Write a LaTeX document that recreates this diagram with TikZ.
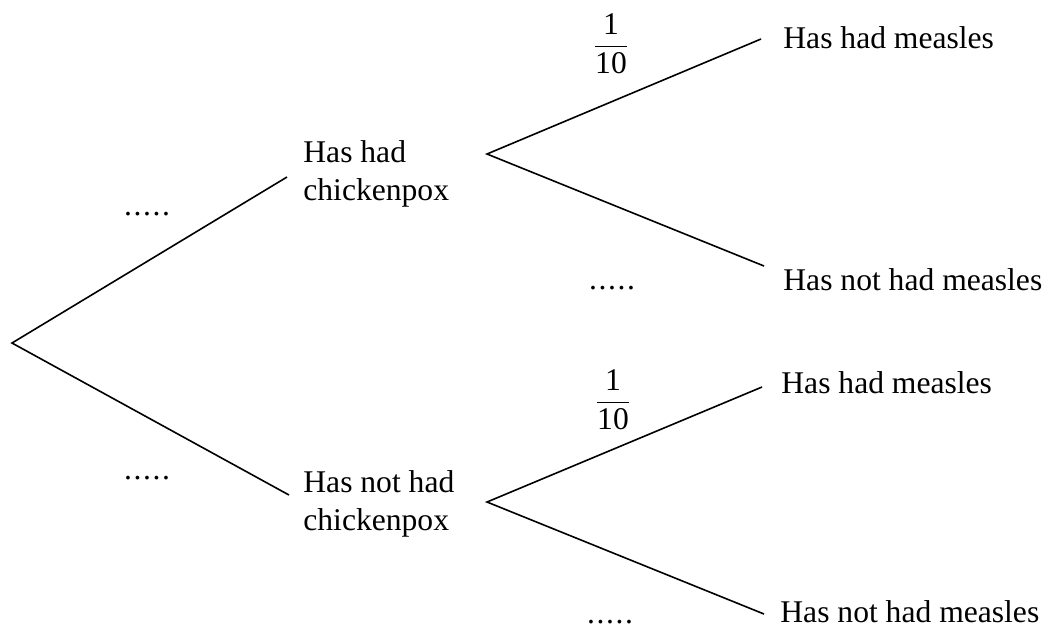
\documentclass[tikz,border=0pt]{standalone}
\usepackage{fontspec}
\setmainfont{Liberation Serif}
\newcommand{\blankdots}{.\kern0.8pt.\kern0.8pt.\kern0.8pt.\kern0.8pt.}
\begin{document}
\begin{tikzpicture}[x=0.5pt,y=-0.5pt,
  lbl/.style={inner sep=0pt, font=\fontsize{15.8}{19}\selectfont},
  twoline/.style={lbl, align=left},
  branch/.style={line width=0.8pt, line join=miter}]
\useasboundingbox (0,0) rectangle (1047,629);
% labels (base of a two-line node = baseline of its last line)
\node[twoline, anchor=base west] (c1) at (303,200) {Has had\\chickenpox};
\node[twoline, anchor=base west] (c2) at (303,530) {Has not had\\chickenpox};
\node[lbl, anchor=base west] (m1) at (783,48) {Has had measles};
\node[lbl, anchor=base west] (m2) at (783,290) {Has not had measles};
\node[lbl, anchor=base west] (m3) at (781,393) {Has had measles};
\node[lbl, anchor=base west] (m4) at (780,622) {Has not had measles};
% probabilities
\node[lbl, anchor=base] (p1) at (147,215) {\blankdots};
\node[lbl, anchor=base] (p2) at (147,479) {\blankdots};
\node[lbl, anchor=base] (p3) at (612,289) {\blankdots};
\node[lbl, anchor=base] (p4) at (610,623) {\blankdots};
\node[lbl, anchor=base] (f1) at (611,54) {$\displaystyle\frac{\hbox{1}}{\hbox{10}}$};
\node[lbl, anchor=base] (f2) at (613,410) {$\displaystyle\frac{\hbox{1}}{\hbox{10}}$};
% branch points
\coordinate (root) at (12,343);
\coordinate (a1) at (287,177);
\coordinate (a2) at (289,495);
\coordinate (hc) at (487,154);
\coordinate (hm1) at (761,39);
\coordinate (hm2) at (764,266);
\coordinate (nc) at (487,502);
\coordinate (nm1) at (762,387);
\coordinate (nm2) at (764,614);
\draw[branch] (a1) -- (root) -- (a2);
\draw[branch] (hm1) -- (hc) -- (hm2);
\draw[branch] (nm1) -- (nc) -- (nm2);
\end{tikzpicture}
\end{document}
